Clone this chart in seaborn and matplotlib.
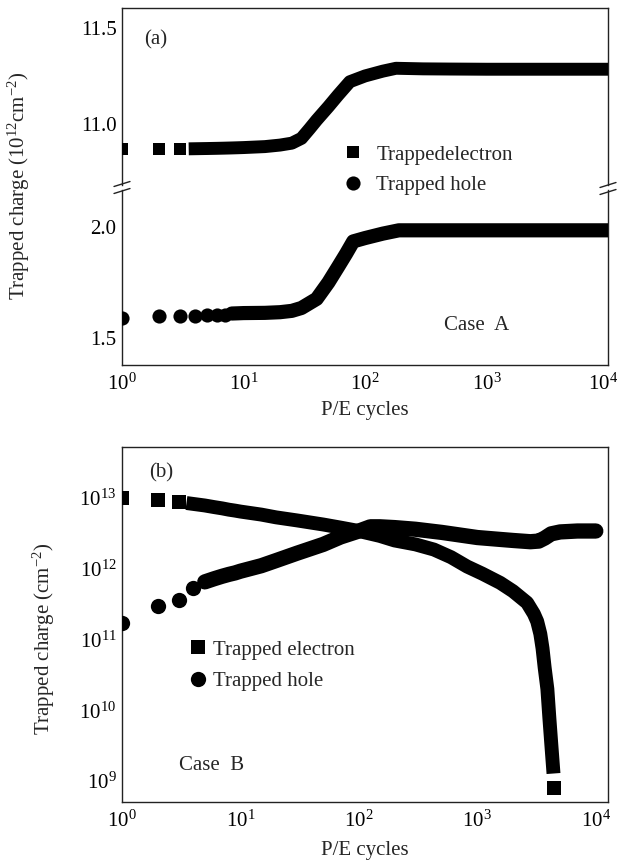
import numpy as np
import pandas as pd
import matplotlib
matplotlib.use("Agg")
import matplotlib.pyplot as plt
import seaborn as sns
from matplotlib.lines import Line2D
from matplotlib.ticker import NullLocator, FixedLocator, FixedFormatter
from matplotlib.transforms import ScaledTranslation

# ---------------- data: panel (a) ----------------
a_elec_cycles = [1, 2, 3, 4, 5, 6, 7, 8, 9, 10, 15, 20, 25, 30, 35, 40, 50, 60, 75,
                 100, 140, 180, 300, 500, 1000, 2000, 5000, 10000]
a_elec_charge = [10.870, 10.870, 10.870, 10.871, 10.872, 10.873, 10.874, 10.875, 10.876,
                 10.877, 10.882, 10.890, 10.900, 10.925, 10.975, 11.02, 11.09, 11.15, 11.22,
                 11.25, 11.275, 11.29, 11.287, 11.286, 11.285, 11.285, 11.285, 11.285]
a_hole_cycles = [1, 2, 3, 4, 5, 6, 7, 8, 9, 10, 15, 20, 25, 30, 40, 50, 60, 70, 80,
                 100, 140, 190, 300, 500, 1000, 2000, 5000, 10000]
a_hole_charge = [1.592, 1.600, 1.600, 1.601, 1.602, 1.603, 1.605, 1.610, 1.611, 1.612,
                 1.613, 1.616, 1.622, 1.635, 1.676, 1.75, 1.82, 1.88, 1.935,
                 1.950, 1.970, 1.985, 1.985, 1.985, 1.985, 1.985, 1.985, 1.985]

# ---------------- data: panel (b) ----------------
b_elec_cycles = [1, 2, 3, 4, 5, 6, 7, 8, 9, 10, 15, 20, 30, 50, 70, 100, 150, 200, 300,
                 430, 600, 820, 1100, 1560, 2000, 2630, 3000, 3200, 3400, 3550, 3700,
                 3900, 4050, 4200, 4350]
b_elec_charge = [1.0e13, 9.3e12, 8.8e12, 8.2e12, 7.8e12, 7.4e12, 7.1e12, 6.8e12, 6.6e12,
                 6.4e12, 5.8e12, 5.3e12, 4.8e12, 4.2e12, 3.8e12, 3.4e12, 2.9e12, 2.5e12,
                 2.2e12, 1.86e12, 1.45e12, 1.07e12, 8.5e11, 6.3e11, 4.8e11, 3.3e11,
                 2.3e11, 1.8e11, 1.2e11, 7.5e10, 4.0e10, 2.0e10, 8.0e9, 3.5e9, 1.6e9]
b_elec_last_cycle = [4400]
b_elec_last_charge = [8.0e8]
b_hole_cycles = [1, 2, 3, 4, 5, 6, 7, 8, 9, 10, 15, 20, 30, 50, 70, 100, 125, 150, 200,
                 300, 500, 1000, 1500, 2000, 2800, 3300, 3700, 4200, 5000, 7000, 10000]
b_hole_charge = [1.7e11, 3.0e11, 3.6e11, 5.3e11, 6.5e11, 7.2e11, 7.8e11, 8.3e11, 8.7e11,
                 9.2e11, 1.1e12, 1.3e12, 1.65e12, 2.2e12, 2.8e12, 3.4e12, 3.9e12, 3.9e12,
                 3.8e12, 3.6e12, 3.25e12, 2.75e12, 2.6e12, 2.5e12, 2.4e12, 2.45e12, 2.7e12,
                 3.1e12, 3.3e12, 3.4e12, 3.4e12]

x_ticks = [1, 10, 100, 1000, 10000]
x_tick_labels = ["$10^{0}$", "$10^{1}$", "$10^{2}$", "$10^{3}$", "$10^{4}$"]
b_y_ticks = [1e9, 1e10, 1e11, 1e12, 1e13]
b_y_tick_labels = ["$10^{9}$", "$10^{10}$", "$10^{11}$", "$10^{12}$", "$10^{13}$"]

# ---------------- style ----------------
sns.set_theme(style="white")
plt.rcParams["font.family"] = ["Liberation Serif", "DejaVu Serif"]
plt.rcParams["mathtext.fontset"] = "custom"
plt.rcParams["mathtext.rm"] = "Liberation Serif"
plt.rcParams["mathtext.it"] = "Liberation Serif:italic"
plt.rcParams["mathtext.bf"] = "Liberation Serif:bold"
FS = 15

W, H = 618, 865
fig = plt.figure(figsize=(W / 100, H / 100), dpi=100)
fig.patch.set_facecolor("white")


def box(x0, y0, x1, y1):
    return [x0 / W, 1 - y1 / H, (x1 - x0) / W, (y1 - y0) / H]


ax_top = fig.add_axes(box(122, 8, 608, 185))
ax_bot = fig.add_axes(box(122, 190, 608, 365))
ax_b = fig.add_axes(box(122, 447, 608, 802))


def draw(ax, x, y, marker, ms, start):
    df = pd.DataFrame({"x": x, "y": y})
    sparse = df[df["x"] < start]
    dense = df[df["x"] >= start]
    sns.scatterplot(data=sparse, x="x", y="y", marker=marker, s=ms ** 2, color="black",
                    linewidth=0, ax=ax, legend=False, zorder=3)
    cap = "round" if marker == "o" else "projecting"
    sns.lineplot(data=dense, x="x", y="y", color="black", linewidth=ms, ax=ax,
                 legend=False, estimator=None, sort=True,
                 solid_capstyle=cap, solid_joinstyle="round", zorder=3)


draw(ax_top, a_elec_cycles, a_elec_charge, "s", 9.3, 4)
draw(ax_bot, a_hole_cycles, a_hole_charge, "o", 10.2, 8)
draw(ax_b, b_elec_cycles, b_elec_charge, "s", 10.0, 4)
sns.scatterplot(x=b_elec_last_cycle, y=b_elec_last_charge, marker="s", s=9.8 ** 2,
                color="black", linewidth=0, ax=ax_b, legend=False, zorder=3)
draw(ax_b, b_hole_cycles, b_hole_charge, "o", 11.0, 5)

for ax in (ax_top, ax_bot, ax_b):
    ax.set_xscale("log")
    ax.set_xlabel("")
    ax.set_ylabel("")
    for s in ax.spines.values():
        s.set_color("#222222")
        s.set_linewidth(1.0)
        s.set_visible(True)
    ax.tick_params(axis="both", which="major", direction="in", length=7, width=1,
                   color="#222222", labelsize=FS, labelcolor="black",
                   top=False, right=False)
    ax.tick_params(axis="x", pad=6)
    ax.tick_params(axis="y", pad=4)
    ax.xaxis.set_minor_locator(NullLocator())
    ax.yaxis.set_minor_locator(NullLocator())
    ax.patch.set_visible(False)

ax_top.set_xlim(1, 1e4)
ax_bot.set_xlim(1, 1e4)
ax_b.set_xlim(1, 10 ** 4.103)

ax_top.set_ylim(10.682, 11.604)
ax_bot.set_ylim(1.378, 2.1667)
ax_top.set_yticks([11.0, 11.5])
ax_top.set_yticklabels(["11.0", "11.5"])
ax_bot.set_yticks([1.5, 2.0])
ax_bot.set_yticklabels(["1.5", "2.0"])
ax_top.spines["bottom"].set_visible(False)
ax_bot.spines["top"].set_visible(False)
ax_top.tick_params(axis="x", bottom=False, labelbottom=False)
ax_top.set_zorder(3)

for ax in (ax_bot, ax_b):
    ax.xaxis.set_major_locator(FixedLocator(x_ticks))
    ax.xaxis.set_major_formatter(FixedFormatter(x_tick_labels))

ax_b.set_yscale("log")
ax_b.set_ylim(10 ** 8.704, 10 ** 13.718)
ax_b.yaxis.set_major_locator(FixedLocator(b_y_ticks))
ax_b.yaxis.set_major_formatter(FixedFormatter(b_y_tick_labels))
ax_b.yaxis.set_minor_locator(NullLocator())

# break marks on panel (a)
def slash(xc, yc, dx=8, dy=2.5):
    fig.add_artist(Line2D([(xc - dx) / W, (xc + dx) / W],
                          [1 - (yc + dy) / H, 1 - (yc - dy) / H],
                          color="#222222", lw=1.0))

slash(122, 184)
slash(122, 191)
slash(608, 185)
slash(608, 192)

# axis labels
fig.text(365 / W, 1 - 410 / H, "P/E cycles", ha="center", va="center", fontsize=FS)
fig.text(365 / W, 1 - 850 / H, "P/E cycles", ha="center", va="center", fontsize=FS)
fig.text(19 / W, 1 - 186 / H, "Trapped charge (10$^{12}$cm$^{-2}$)", rotation=90,
         ha="center", va="center", fontsize=FS)
fig.text(44 / W, 1 - 639 / H, "Trapped charge (cm$^{-2}$)", rotation=90,
         ha="center", va="center", fontsize=FS)

# annotations
fig.text(156 / W, 1 - 40 / H, "(a)", ha="center", va="center", fontsize=FS)
fig.text(161 / W, 1 - 473 / H, "(b)", ha="center", va="center", fontsize=FS)
fig.text(477 / W, 1 - 325 / H, "Case  A", ha="center", va="center", fontsize=FS)
fig.text(212 / W, 1 - 765 / H, "Case  B", ha="center", va="center", fontsize=FS)

# legends
def legend(ax, labels, left_px, top_px, textpad, spacing, ms_sq, ms_ci):
    handles = [Line2D([], [], marker="s", color="black", linestyle="none",
                      markersize=ms_sq, markeredgewidth=0),
               Line2D([], [], marker="o", color="black", linestyle="none",
                      markersize=ms_ci, markeredgewidth=0)]
    leg = ax.legend(handles=handles, labels=labels, loc="upper left",
                    bbox_to_anchor=(left_px / W, 1 - top_px / H),
                    bbox_transform=fig.transFigure, frameon=False, fontsize=FS,
                    handlelength=1.0, handletextpad=textpad, labelspacing=spacing,
                    borderpad=0, borderaxespad=0)
    leg.set_zorder(10)

legend(ax_top, ["Trappedelectron", "Trapped hole"], 343, 145, 0.6, 0.53, 9.3, 10.2)
legend(ax_b, ["Trapped electron", "Trapped hole"], 188, 640, 0.22, 0.57, 9.8, 11.0)

# keep the last x tick label of panel (a) inside the frame
fig.canvas.draw()
lbl = ax_bot.xaxis.get_major_ticks()[-1].label1
lbl.set_transform(lbl.get_transform() + ScaledTranslation(-0.05, 0, fig.dpi_scale_trans))

fig.savefig("out.png", dpi=100, facecolor="white")
